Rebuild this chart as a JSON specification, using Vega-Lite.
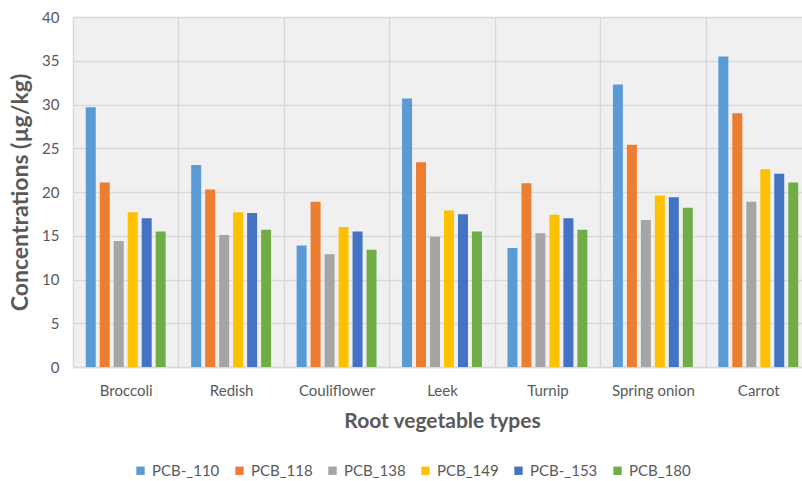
{
  "$schema": "https://vega.github.io/schema/vega-lite/v6.json",
  "autosize": {"type": "none"},
  "padding": {"left": 73, "top": 17, "right": 0, "bottom": 114},
  "width": 729,
  "height": 350,
  "background": "white",
  "config": {
    "view": {"stroke": null, "fill": "#f0f0f0"},
    "font": "Lato",
    "axis": {"labelColor": "#595959", "titleColor": "#595959", "gridColor": "#d9d9d9", "gridWidth": 1.5, "domainColor": "#d9d9d9", "ticks": false}
  },
  "data": {
    "values": [
      {"veg": "Broccoli", "pcb": "PCB-_110", "v": 29.7},
      {"veg": "Broccoli", "pcb": "PCB_118", "v": 21.1},
      {"veg": "Broccoli", "pcb": "PCB_138", "v": 14.4},
      {"veg": "Broccoli", "pcb": "PCB_149", "v": 17.7},
      {"veg": "Broccoli", "pcb": "PCB-_153", "v": 17.0},
      {"veg": "Broccoli", "pcb": "PCB_180", "v": 15.5},
      {"veg": "Redish", "pcb": "PCB-_110", "v": 23.1},
      {"veg": "Redish", "pcb": "PCB_118", "v": 20.3},
      {"veg": "Redish", "pcb": "PCB_138", "v": 15.1},
      {"veg": "Redish", "pcb": "PCB_149", "v": 17.7},
      {"veg": "Redish", "pcb": "PCB-_153", "v": 17.6},
      {"veg": "Redish", "pcb": "PCB_180", "v": 15.7},
      {"veg": "Couliflower", "pcb": "PCB-_110", "v": 13.9},
      {"veg": "Couliflower", "pcb": "PCB_118", "v": 18.9},
      {"veg": "Couliflower", "pcb": "PCB_138", "v": 12.9},
      {"veg": "Couliflower", "pcb": "PCB_149", "v": 16.0},
      {"veg": "Couliflower", "pcb": "PCB-_153", "v": 15.5},
      {"veg": "Couliflower", "pcb": "PCB_180", "v": 13.4},
      {"veg": "Leek", "pcb": "PCB-_110", "v": 30.7},
      {"veg": "Leek", "pcb": "PCB_118", "v": 23.4},
      {"veg": "Leek", "pcb": "PCB_138", "v": 14.9},
      {"veg": "Leek", "pcb": "PCB_149", "v": 17.9},
      {"veg": "Leek", "pcb": "PCB-_153", "v": 17.45},
      {"veg": "Leek", "pcb": "PCB_180", "v": 15.5},
      {"veg": "Turnip", "pcb": "PCB-_110", "v": 13.6},
      {"veg": "Turnip", "pcb": "PCB_118", "v": 21.0},
      {"veg": "Turnip", "pcb": "PCB_138", "v": 15.3},
      {"veg": "Turnip", "pcb": "PCB_149", "v": 17.4},
      {"veg": "Turnip", "pcb": "PCB-_153", "v": 17.0},
      {"veg": "Turnip", "pcb": "PCB_180", "v": 15.7},
      {"veg": "Spring onion", "pcb": "PCB-_110", "v": 32.3},
      {"veg": "Spring onion", "pcb": "PCB_118", "v": 25.4},
      {"veg": "Spring onion", "pcb": "PCB_138", "v": 16.8},
      {"veg": "Spring onion", "pcb": "PCB_149", "v": 19.6},
      {"veg": "Spring onion", "pcb": "PCB-_153", "v": 19.4},
      {"veg": "Spring onion", "pcb": "PCB_180", "v": 18.2},
      {"veg": "Carrot", "pcb": "PCB-_110", "v": 35.5},
      {"veg": "Carrot", "pcb": "PCB_118", "v": 29.0},
      {"veg": "Carrot", "pcb": "PCB_138", "v": 18.9},
      {"veg": "Carrot", "pcb": "PCB_149", "v": 22.6},
      {"veg": "Carrot", "pcb": "PCB-_153", "v": 22.1},
      {"veg": "Carrot", "pcb": "PCB_180", "v": 21.1}
    ]
  },
  "mark": {"type": "bar", "clip": true},
  "encoding": {
    "x": {
      "field": "veg", "type": "nominal", "sort": null,
      "scale": {"range": [0, 738], "paddingInner": 0, "paddingOuter": 0},
      "axis": {"title": "Root vegetable types", "labelAngle": 0, "labelFontSize": 15, "labelPadding": 16, "titleFontSize": 21, "titleFontWeight": "bold", "titlePadding": 12, "grid": true, "tickBand": "extent", "domainWidth": 1.5}
    },
    "xOffset": {
      "field": "pcb", "type": "nominal", "sort": null,
      "scale": {"paddingInner": 0.286, "paddingOuter": 0.913}
    },
    "y": {
      "field": "v", "type": "quantitative",
      "scale": {"domain": [0, 40], "nice": false},
      "axis": {"title": "Concentrations (µg/kg)", "values": [0, 5, 10, 15, 20, 25, 30, 35, 40], "labelFontSize": 15, "labelPadding": 14, "domain": false, "titleFontSize": 23, "titleFontWeight": "bold", "titlePadding": 9}
    },
    "color": {
      "field": "pcb", "type": "nominal", "sort": null,
      "scale": {"domain": ["PCB-_110", "PCB_118", "PCB_138", "PCB_149", "PCB-_153", "PCB_180"], "range": ["#5B9BD5", "#ED7D31", "#A5A5A5", "#FFC000", "#4472C4", "#70AD47"]},
      "legend": {"title": null, "orient": "none", "legendX": 60, "legendY": 446, "direction": "horizontal", "symbolType": "square", "symbolSize": 70, "symbolStrokeWidth": 0, "labelFontSize": 15, "labelColor": "#595959", "columnPadding": 12, "labelOffset": 4}
    }
  }
}
